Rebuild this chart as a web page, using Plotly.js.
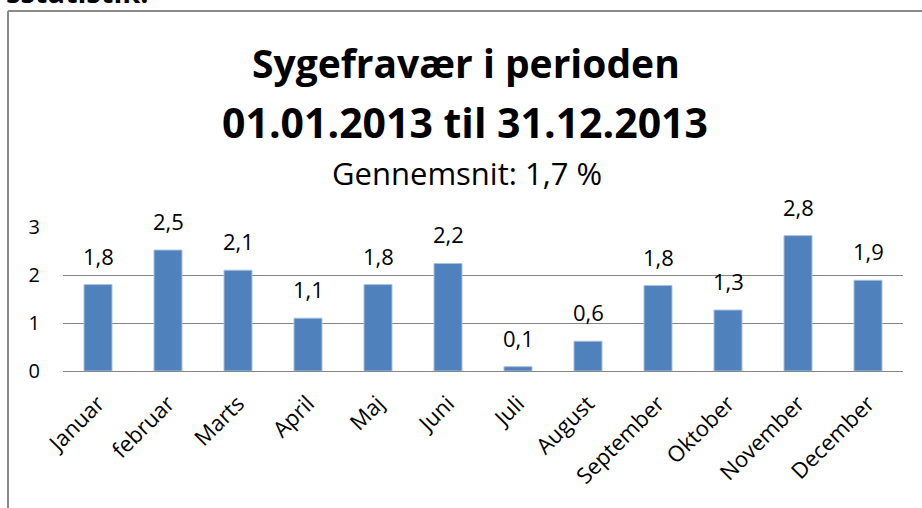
<!DOCTYPE html>
<html>
<head>
<meta charset="utf-8">
<script src="https://cdn.plot.ly/plotly-3.0.1.min.js"></script>
<style>html,body{margin:0;padding:0;background:#fff;}#chart{width:922px;height:508px;}</style>
</head>
<body>
<div id="chart"></div>
<script>
var months = ["Januar","februar","Marts","April","Maj","Juni","Juli","August","September","Oktober","November","December"];
var values = [1.80, 2.52, 2.10, 1.10, 1.80, 2.24, 0.09, 0.62, 1.78, 1.27, 2.82, 1.89];
var labels = ["1,8","2,5","2,1","1,1","1,8","2,2","0,1","0,6","1,8","1,3","2,8","1,9"];
var yTicks = [0, 1, 2, 3];
var titleLine1 = "Sygefravær i perioden";
var titleLine2 = "01.01.2013 til 31.12.2013";
var subtitle = "Gennemsnit: 1,7 %";
var topText = "sstatistik:";

var FONT = "Open Sans, Lato, sans-serif";
var L = 63, R = 19, T = 227, B = 137;
var W = 922 - L - R, H = 508 - T - B;
function px(x){ return (x - L) / W; }
function py(y){ return (508 - B - y) / H; }

var annotations = [];
for (var i = 0; i < months.length; i++) {
  annotations.push({
    x: months[i], y: values[i], xref: 'x', yref: 'y',
    text: labels[i], showarrow: false, yanchor: 'bottom', yshift: 12,
    font: {family: FONT, size: 22, color: '#000'}
  });
}
annotations.push({x: px(466), y: py(91), xref: 'paper', yref: 'paper', text: '<b>' + titleLine1 + '</b>', showarrow: false, xanchor: 'center', yanchor: 'bottom', font: {family: FONT, size: 39, color: '#000'}});
annotations.push({x: px(465), y: py(152), xref: 'paper', yref: 'paper', text: '<b>' + titleLine2 + '</b>', showarrow: false, xanchor: 'center', yanchor: 'bottom', font: {family: FONT, size: 41, color: '#000'}});
annotations.push({x: px(467), y: py(196), xref: 'paper', yref: 'paper', text: subtitle, showarrow: false, xanchor: 'center', yanchor: 'bottom', font: {family: FONT, size: 31, color: '#000'}});
annotations.push({x: px(4), y: py(13), xref: 'paper', yref: 'paper', text: '<b>' + topText + '</b>', showarrow: false, xanchor: 'left', yanchor: 'bottom', font: {family: FONT, size: 29, color: '#000'}});

var trace = {
  type: 'bar', x: months, y: values,
  marker: {color: '#4F81BD', line: {color: '#A9C0E0', width: 1}},
  hoverinfo: 'none'
};

var layout = {
  width: 922, height: 508,
  margin: {l: L, r: R, t: T, b: B, pad: 0},
  paper_bgcolor: '#fff', plot_bgcolor: '#fff',
  showlegend: false,
  bargap: 0.6,
  xaxis: {
    type: 'category', tickangle: -45, showgrid: false, showline: true,
    linecolor: '#868686', linewidth: 1, ticks: '', zeroline: false,
    ticklabelstandoff: 10,
    tickfont: {family: FONT, size: 22, color: '#000'}
  },
  yaxis: {
    range: [0, 3], tickvals: yTicks, ticktext: yTicks.map(String),
    showgrid: true, gridcolor: '#868686', gridwidth: 1, zeroline: false,
    showline: false, ticks: '', ticklabelstandoff: 22,
    tickfont: {family: FONT, size: 20, color: '#000'}
  },
  annotations: annotations,
  shapes: [
    {type: 'line', xref: 'paper', yref: 'paper', x0: px(8), x1: px(930), y0: py(11), y1: py(11), line: {color: '#8a8a8a', width: 2}},
    {type: 'line', xref: 'paper', yref: 'paper', x0: px(8), x1: px(8), y0: py(11), y1: py(520), line: {color: '#8a8a8a', width: 2}}
  ]
};
Plotly.newPlot('chart', [trace], layout, {staticPlot: true, displayModeBar: false});
</script>
</body>
</html>
